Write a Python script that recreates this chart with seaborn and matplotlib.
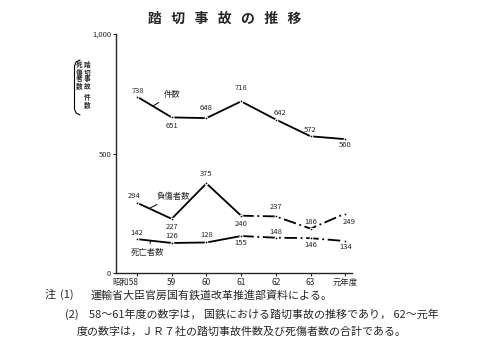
import matplotlib
matplotlib.use("Agg")
import matplotlib.pyplot as plt
import matplotlib.transforms as mtransforms
from matplotlib.lines import Line2D
import seaborn as sns
import pandas as pd

sns.set_style("ticks")
plt.rcParams["font.family"] = ["Noto Sans CJK JP", "DejaVu Sans"]

# data
years = ["昭和58", "59", "60", "61", "62", "63", "元年度"]
accidents = [738, 651, 648, 718, 642, 572, 560]
injured = [294, 227, 375, 240, 237, 186, 249]
deaths = [142, 126, 128, 155, 148, 146, 134]

x = list(range(len(years)))
df = pd.DataFrame({"x": x, "件数": accidents, "負傷者数": injured, "死亡者数": deaths})
jnr = df[df["x"] <= 3]
jr = df[df["x"] >= 3]

W, H = 492, 357
fig = plt.figure(figsize=(W / 100, H / 100), dpi=100)
ax = fig.add_axes([0.236, 0.235, 0.48, 0.67])

# 件数 solid throughout, the other two dash-dot from 61 on
sns.lineplot(data=df, x="x", y="件数", ax=ax, color="black", lw=1.3,
             marker="o", markersize=2)
for col in ["負傷者数", "死亡者数"]:
    sns.lineplot(data=jnr, x="x", y=col, ax=ax, color="black", lw=1.3,
                 marker="o", markersize=2)
    sns.lineplot(data=jr, x="x", y=col, ax=ax, color="black", lw=1.3,
                 marker="o", markersize=2, linestyle=(0, (7, 2, 1, 2)))

ax.set_xlim(-0.6, 6.2)
ax.set_ylim(0, 1000)
ax.set_yticks([0, 500, 1000])
ax.set_yticklabels(["0", "500", "1,000"], fontsize=5.5)
ax.set_xticks(x)
ax.set_xticklabels(years, fontsize=6)
ax.tick_params(length=2, width=0.8, pad=1.5)
# shift "昭和58" left so 58 sits just left of its tick
first = ax.get_xticklabels()[0]
first.set_transform(first.get_transform() +
                    mtransforms.ScaledTranslation(-12 / 100, 0, fig.dpi_scale_trans))
ax.set_xlabel("")
ax.set_ylabel("")
sns.despine(ax=ax, top=True, right=True)
for s in ["left", "bottom"]:
    ax.spines[s].set_linewidth(1.0)

# value labels, offsets in pixels (dx, dy up)
fs = 5.5
off_acc = [(1, 6), (0, -9), (0, 10), (0, 13), (4, 7), (0, 6), (0, -6)]
off_inj = [(-3, 7), (0, -8), (0, 9), (0, -8), (0, 9), (0, 7), (4, -8)]
off_dth = [(0, 6), (0, 7), (0, 7), (0, -7), (0, 6), (0, -7), (0, -6)]
for vals, offs in [(accidents, off_acc), (injured, off_inj), (deaths, off_dth)]:
    for i, (v, (dx, dy)) in enumerate(zip(vals, offs)):
        ax.annotate(str(v), (i, v), xytext=(dx * 0.72, dy * 0.72),
                    textcoords="offset points", ha="center", va="center",
                    fontsize=fs)

# series name labels with leader lines
lead = dict(arrowstyle="-", lw=0.7, color="black", shrinkA=1, shrinkB=0)
ax.annotate("件数", xy=(0.45, 698), xytext=(1.0, 745), fontsize=6,
            ha="center", va="center", arrowprops=lead)
ax.annotate("負傷者数", xy=(0.35, 270), xytext=(1.05, 322), fontsize=6,
            ha="center", va="center", arrowprops=lead)
ax.annotate("死亡者数", xy=(0.4, 136), xytext=(0.3, 85), fontsize=6,
            ha="center", va="center", arrowprops=lead)

# title
fig.text(0.457, 0.948, "踏   切   事   故   の   推   移", fontsize=10,
         fontweight="bold", ha="center", va="center")

# vertical y-axis label (two columns, with a tall bracket on the left)
col1 = "踏切事故件数"
col1_y = [65, 72, 79, 86, 97, 105]
col2 = "死傷者数"
col2_y = [65, 72, 79, 86]
for ch, yy in zip(col1, col1_y):
    fig.text(87.5 / W, 1 - yy / H, ch, fontsize=4.8, ha="center",
             va="center", fontweight="bold")
for ch, yy in zip(col2, col2_y):
    fig.text(79.5 / W, 1 - yy / H, ch, fontsize=4.8, ha="center",
             va="center", fontweight="bold")
bx = [80, 76, 74.5, 74.5, 76, 80]
by = [60, 62, 66, 109, 113, 115]
fig.add_artist(Line2D([v / W for v in bx], [1 - v / H for v in by],
                      transform=fig.transFigure, color="black", lw=0.8))

# notes
nfs = 7.9
fig.text(45 / W, 0.174, "注", fontsize=nfs, ha="left", va="center")
fig.text(60 / W, 0.174, "(1)", fontsize=nfs, ha="left", va="center")
fig.text(91 / W, 0.174, "運輸省大臣官房国有鉄道改革推進部資料による。",
         fontsize=nfs, ha="left", va="center")
fig.text(65 / W, 0.120, "(2)", fontsize=nfs, ha="left", va="center")
fig.text(89 / W, 0.120,
         "58～61年度の数字は， 国鉄における踏切事故の推移であり， 62～元年",
         fontsize=nfs, ha="left", va="center")
fig.text(77 / W, 0.070,
         "度の数字は，ＪＲ７社の踏切事故件数及び死傷者数の合計である。",
         fontsize=nfs, ha="left", va="center")

fig.savefig("out.png", dpi=100)
